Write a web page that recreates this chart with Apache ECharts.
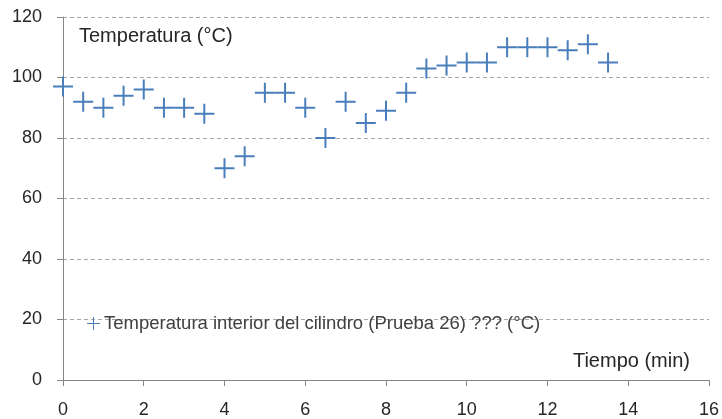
<!DOCTYPE html>
<html><head><meta charset="utf-8">
<script src="https://cdn.jsdelivr.net/npm/echarts@6/dist/echarts.min.js"></script>
<style>html,body{margin:0;padding:0;background:#fff}#c{width:722px;height:419px}</style>
</head><body><div id="c"></div>
<script>
const tiempo = [0,0.5,1,1.5,2,2.5,3,3.5,4,4.5,5,5.5,6,6.5,7,7.5,8,8.5,9,9.5,10,10.5,11,11.5,12,12.5,13,13.5];
const temperatura = [97,92,90,94,96,90,90,88,70,74,95,95,90,80,92,85,89,95,103,104,105,105,110,110,110,109,111,105];
const seriesName = 'Temperatura interior del cilindro (Prueba 26) ??? (°C)';
const xName = 'Tiempo (min)';
const yName = 'Temperatura (°C)';

const plus = 'path://M0,9H20V11H0Z M9,0H11V20H9Z';
const plusLegend = 'path://M0,9.25H20V10.75H0Z M9.25,0H10.75V20H9.25Z';
const font = "'Liberation Sans', Arial, sans-serif";
const chart = echarts.init(document.getElementById('c'), null, {renderer:'canvas'});
chart.setOption({
  animation:false,
  backgroundColor:'#fff',
  textStyle:{fontFamily:font},
  grid:{left:63,right:12,top:17,bottom:38,containLabel:false},
  legend:{
    left:82, top:309, itemWidth:13, itemHeight:13, itemGap:5,
    textStyle:{fontSize:18.5,color:'#404040',fontFamily:font,padding:[0,0,0,-1]},
    data:[{name:seriesName, icon:plusLegend, itemStyle:{color:'#4a7ebb',borderWidth:0}}]
  },
  xAxis:{
    type:'value', min:0, max:16, interval:2,
    axisLine:{lineStyle:{color:'#868686'}},
    axisTick:{show:true,length:6,lineStyle:{color:'#868686'}},
    axisLabel:{fontSize:18,color:'#262626',margin:21},
    splitLine:{show:false}
  },
  yAxis:{
    type:'value', min:0, max:120, interval:20,
    axisLine:{show:true,lineStyle:{color:'#868686'}},
    axisTick:{show:true,length:6,lineStyle:{color:'#868686'}},
    axisLabel:{fontSize:18,color:'#262626',margin:21},
    splitLine:{show:true,lineStyle:{color:'#a6a6a6',type:[4,3]}}
  },
  graphic:[
    {type:'text',left:79,top:26,style:{text:yName,fontSize:20,fill:'#262626',fontFamily:font}},
    {type:'text',right:32,top:351,style:{text:xName,fontSize:20,fill:'#262626',fontFamily:font}}
  ],
  series:[{
    name:seriesName, type:'scatter',
    data:tiempo.map((t,i)=>[t,temperatura[i]]),
    symbol:plus, symbolSize:20,
    itemStyle:{color:'#4a7ebb',opacity:1}
  }]
});
</script></body></html>
